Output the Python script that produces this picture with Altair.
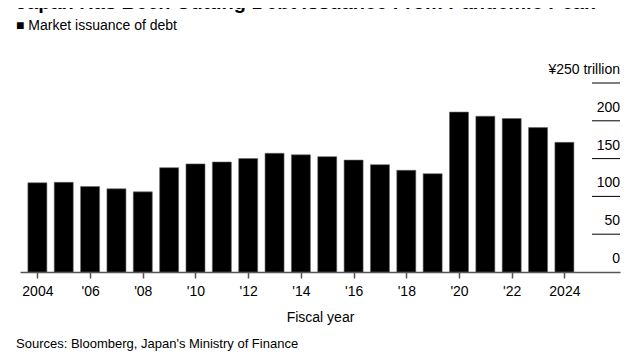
import altair as alt
import pandas as pd

years = list(range(2004, 2025))
issuance = [118, 118.6, 113, 110, 106, 138, 143, 145.5, 150, 157, 155,
            152.6, 148, 142, 134.5, 130, 211.5, 206, 203, 191, 171.5]
y_ticks = [0, 50, 100, 150, 200, 250]
y_labels = ["0", "50", "100", "150", "200", "¥250 trillion"]
x_ticks = list(range(2004, 2025, 2))

W, H = 600, 189
FONT = "Liberation Sans"

df = pd.DataFrame({"year": years, "value": issuance})
tdf = pd.DataFrame({"v": y_ticks, "lab": y_labels})

xscale = alt.Scale(domain=[2003.53, 2025.92], nice=False, zero=False)
yscale = alt.Scale(domain=[0, 250], nice=False)

bars = alt.Chart(df).mark_bar(size=19, color="#000000", stroke="#666666", strokeWidth=0.6).encode(
    x=alt.X("year:Q", scale=xscale, axis=alt.Axis(
        values=x_ticks, format="d", grid=False, tickSize=6, tickColor="#555555",
        domainColor="#555555", domainWidth=1.5, tickWidth=1.5,
        labelExpr="datum.value == 2004 || datum.value == 2024 ? '' + datum.value : \"'\" + substring('' + datum.value, 2, 4)",
        labelFont=FONT, labelFontSize=14, labelColor="#000000", labelPadding=6,
        title="Fiscal year", titleFont=FONT, titleFontSize=14, titleFontWeight="normal",
        titleColor="#000000", titlePadding=12)),
    y=alt.Y("value:Q", scale=yscale, axis=None),
)

rules = alt.Chart(tdf).transform_filter("datum.v > 0").mark_rule(color="#000000", strokeWidth=1).encode(
    y=alt.Y("v:Q", scale=yscale),
    x=alt.value(572), x2=alt.value(600),
)

labels = alt.Chart(tdf).mark_text(align="right", baseline="bottom", dy=-6, font=FONT,
                                  fontSize=14, color="#000000").encode(
    y=alt.Y("v:Q", scale=yscale),
    x=alt.value(600),
    text="lab:N",
)

source = alt.Chart(pd.DataFrame({"t": ["Sources: Bloomberg, Japan's Ministry of Finance"]})).mark_text(
    align="left", baseline="alphabetic", font=FONT, fontSize=13, color="#000000").encode(
    x=alt.value(-4), y=alt.value(H + 76), text="t:N")

chart = alt.layer(bars, rules, labels, source).properties(
    width=W, height=H,
    padding={"left": 12, "top": 75, "right": 4, "bottom": 80},
    autosize=alt.AutoSizeParams(type="none"),
    title=alt.TitleParams(
        text="Japan Has Been Cutting Debt Issuance From Pandemic Peak",
        subtitle="■ Market issuance of debt",
        anchor="start", frame="group", dx=-4, offset=30,
        font=FONT, fontSize=20, fontWeight="bold", color="#000000",
        subtitleFont=FONT, subtitleFontSize=14, subtitleColor="#000000", subtitlePadding=6,
    ),
).configure_view(stroke=None)

chart.save("out.html", embed_options={"renderer": "svg", "actions": False})
